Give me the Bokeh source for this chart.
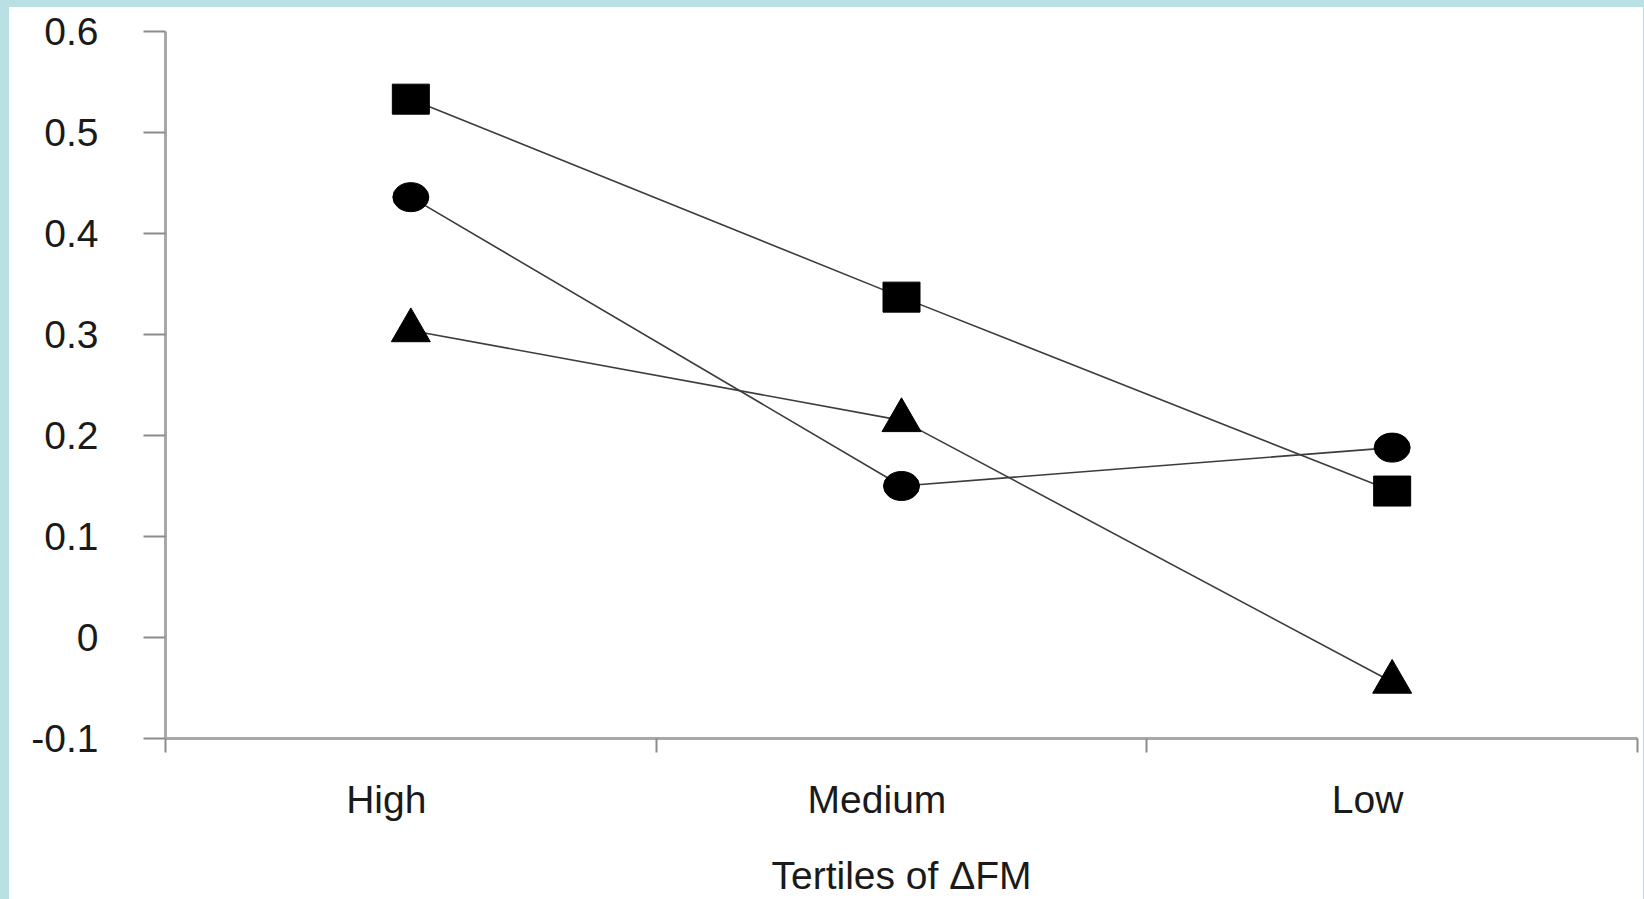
from bokeh.plotting import figure
from bokeh.models import Range1d, FixedTicker
from bokeh.layouts import column
from bokeh.embed import file_html
from bokeh.resources import INLINE

# Tertile groups and the three plotted series
categories = ["High", "Medium", "Low"]
square_vals = [0.533, 0.337, 0.145]
circle_vals = [0.436, 0.150, 0.188]
triangle_vals = [0.304, 0.215, -0.044]

y_ticks = [-0.1, 0.0, 0.1, 0.2, 0.3, 0.4, 0.5, 0.6]
y_tick_labels = ["-0.1", "0", "0.1", "0.2", "0.3", "0.4", "0.5", "0.6"]
x_title = "Tertiles of \u0394FM"

# each tertile occupies one unit band; points sit in the middle of the band
xs = [i + 0.5 for i in range(len(categories))]
label_pos = [x - 0.05 for x in xs]
bounds = [float(i) for i in range(len(categories) + 1)]

FONT = "Liberation Sans"
TEXT = "#1a1a1a"
AXIS = "#a8a8a8"
TICK = "#8c8c8c"
LINE = "#3c3c3c"

p = figure(
    width=1634, height=892,
    x_range=Range1d(0, len(categories)), y_range=Range1d(y_ticks[0], y_ticks[-1]),
    output_backend="svg", toolbar_location=None,
    min_border_left=156, min_border_top=24, min_border_right=6, min_border_bottom=161,
)
p.margin = (7, 1, 0, 9)
p.styles = {"background-color": "white"}
p.grid.visible = False
p.outline_line_color = None
p.background_fill_color = "white"
p.border_fill_color = "white"

# connecting lines first, markers on top
for vals in (square_vals, circle_vals, triangle_vals):
    p.line(xs, vals, line_color=LINE, line_width=1.6)

p.rect(xs, square_vals, width=37, height=30, width_units="screen", height_units="screen",
       fill_color="black", line_color="black")
p.ellipse(xs, circle_vals, width=36, height=29, width_units="screen", height_units="screen",
          fill_color="black", line_color="black")
p.scatter(xs, triangle_vals, marker="triangle", size=39, fill_color="black", line_color="black")

# x axis: labels under each band, tick marks on the band boundaries
xa = p.xaxis[0]
xa.ticker = FixedTicker(ticks=label_pos, minor_ticks=bounds)
xa.major_label_overrides = dict(zip(label_pos, categories))
xa.major_tick_line_color = None
xa.major_tick_out = 14
xa.major_tick_in = 0
xa.minor_tick_out = 14
xa.minor_tick_in = 0
xa.minor_tick_line_color = TICK
xa.minor_tick_line_width = 2
xa.major_label_standoff = 25
xa.axis_label = x_title
xa.axis_label_standoff = 30

ya = p.yaxis[0]
ya.ticker = FixedTicker(ticks=y_ticks)
ya.major_label_overrides = dict(zip(y_ticks, y_tick_labels))
ya.major_tick_out = 22
ya.major_tick_in = 0
ya.major_tick_line_color = TICK
ya.major_tick_line_width = 2
ya.minor_tick_line_color = None
ya.major_label_standoff = 45

for ax in (xa, ya):
    ax.axis_line_color = AXIS
    ax.axis_line_width = 3
    ax.major_label_text_font = FONT
    ax.major_label_text_font_size = "39px"
    ax.major_label_text_color = TEXT
    ax.axis_label_text_font = FONT
    ax.axis_label_text_font_size = "39px"
    ax.axis_label_text_font_style = "normal"
    ax.axis_label_text_color = TEXT

page = column(p, styles={"background-color": "#b9e0e3"})

with open("out.html", "w") as f:
    f.write(file_html(page, INLINE))
